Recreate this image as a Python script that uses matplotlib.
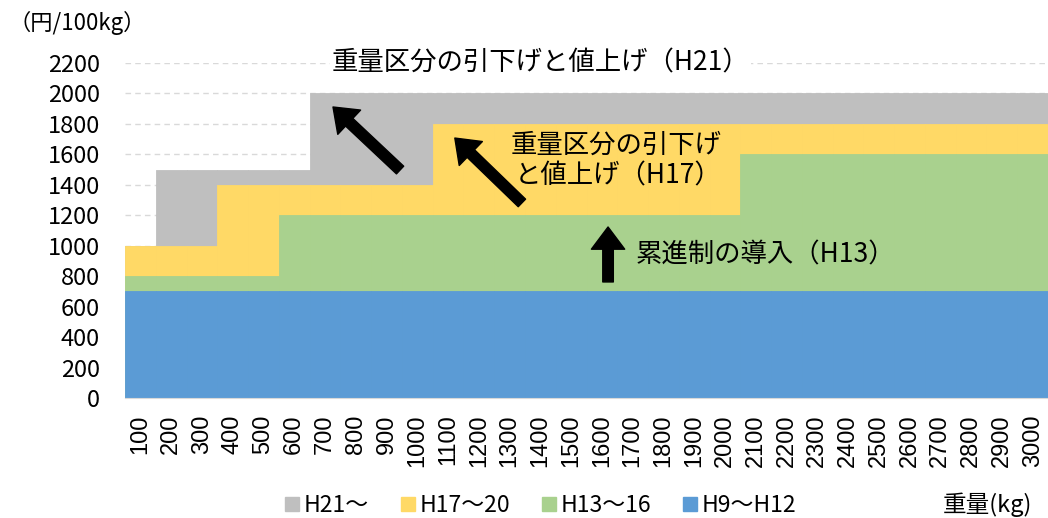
import matplotlib
matplotlib.use("Agg")
import matplotlib.pyplot as plt
from matplotlib.lines import Line2D
import numpy as np

plt.rcParams['font.family'] = ['Noto Sans CJK JP', 'DejaVu Sans']

# weight classes (kg)
weights = [100, 200, 300, 400, 500, 600, 700, 800, 900, 1000,
           1100, 1200, 1300, 1400, 1500, 1600, 1700, 1800, 1900, 2000,
           2100, 2200, 2300, 2400, 2500, 2600, 2700, 2800, 2900, 3000]

# price (yen / 100kg) per period
h21 = [1000, 1500, 1500, 1500, 1500, 1500, 2000, 2000, 2000, 2000,
       2000, 2000, 2000, 2000, 2000, 2000, 2000, 2000, 2000, 2000,
       2000, 2000, 2000, 2000, 2000, 2000, 2000, 2000, 2000, 2000]
h17 = [1000, 1000, 1000, 1400, 1400, 1400, 1400, 1400, 1400, 1400,
       1800, 1800, 1800, 1800, 1800, 1800, 1800, 1800, 1800, 1800,
       1800, 1800, 1800, 1800, 1800, 1800, 1800, 1800, 1800, 1800]
h13 = [800, 800, 800, 800, 800, 1200, 1200, 1200, 1200, 1200,
       1200, 1200, 1200, 1200, 1200, 1200, 1200, 1200, 1200, 1200,
       1600, 1600, 1600, 1600, 1600, 1600, 1600, 1600, 1600, 1600]
h9 = [700, 700, 700, 700, 700, 700, 700, 700, 700, 700,
      700, 700, 700, 700, 700, 700, 700, 700, 700, 700,
      700, 700, 700, 700, 700, 700, 700, 700, 700, 700]

series = [("H21～", h21, "#BFBFBF"),
          ("H17～20", h17, "#FFD966"),
          ("H13～16", h13, "#A9D18E"),
          ("H9～H12", h9, "#5B9BD5")]

fig = plt.figure(figsize=(10.48, 5.18), dpi=100)
ax = fig.add_axes([0.1193, 0.2317, 0.8807, 0.6467])

x = np.arange(len(weights))
for name, vals, col in series:
    ax.bar(x, vals, width=1.0, color=col, edgecolor=col, linewidth=0.6, zorder=2)

ax.set_xlim(-0.5, len(weights) - 0.5)
ax.set_ylim(0, 2200)
ax.set_yticks(range(0, 2201, 200))
ax.set_xticks(x)
ax.set_xticklabels([str(w) for w in weights], rotation=90, fontsize=17,
                   family=['Liberation Sans', 'DejaVu Sans'])
ax.tick_params(axis='x', length=0, pad=12)
ax.tick_params(axis='y', length=0, pad=18, labelsize=17)

ax.set_axisbelow(True)
ax.yaxis.grid(True, color="#D9D9D9", linestyle=(0, (4, 3)), linewidth=1)
for s in ["top", "right", "left"]:
    ax.spines[s].set_visible(False)
ax.spines["bottom"].set_color("#D9D9D9")
ax.spines["bottom"].set_zorder(3)

# annotations
ax.text(13.0, 2200, "重量区分の引下げと値上げ（H21）", fontsize=19, ha='center', va='center',
        bbox=dict(facecolor='white', edgecolor='none', pad=1), zorder=5)
ax.text(18.9, 1560, "重量区分の引下げ\nと値上げ（H17）", fontsize=19, ha='right', va='center',
        multialignment='right', linespacing=1.2, zorder=5)
ax.text(16.1, 940, "累進制の導入（H13）", fontsize=19, ha='left', va='center', zorder=5)

arrow = dict(arrowstyle="simple,head_width=1.2,head_length=0.8,tail_width=0.38",
             mutation_scale=20, color="black", shrinkA=0, shrinkB=0)
ax.annotate("", xy=(6.26, 1911), xytext=(8.44, 1497), arrowprops=arrow, zorder=5)
ax.annotate("", xy=(10.22, 1707), xytext=(12.4, 1281), arrowprops=arrow, zorder=5)
ax.annotate("", xy=(15.2, 1123), xytext=(15.2, 762), arrowprops=arrow, zorder=5)

fig.text(0.008, 0.955, "（円/100kg）", fontsize=16, ha='left', va='center')
fig.text(0.985, 0.025, "重量(kg)", fontsize=17, ha='right', va='center')

handles = [Line2D([], [], marker='s', linestyle='none', markersize=10,
                  markerfacecolor=col, markeredgecolor=col) for _, _, col in series]
fig.legend(handles, [n for n, _, _ in series], loc='center', bbox_to_anchor=(0.515, 0.025),
           ncol=4, frameon=False, fontsize=16.5, handletextpad=0.1, columnspacing=1.3,
           handlelength=0.8)

fig.savefig("out.png", dpi=100)
